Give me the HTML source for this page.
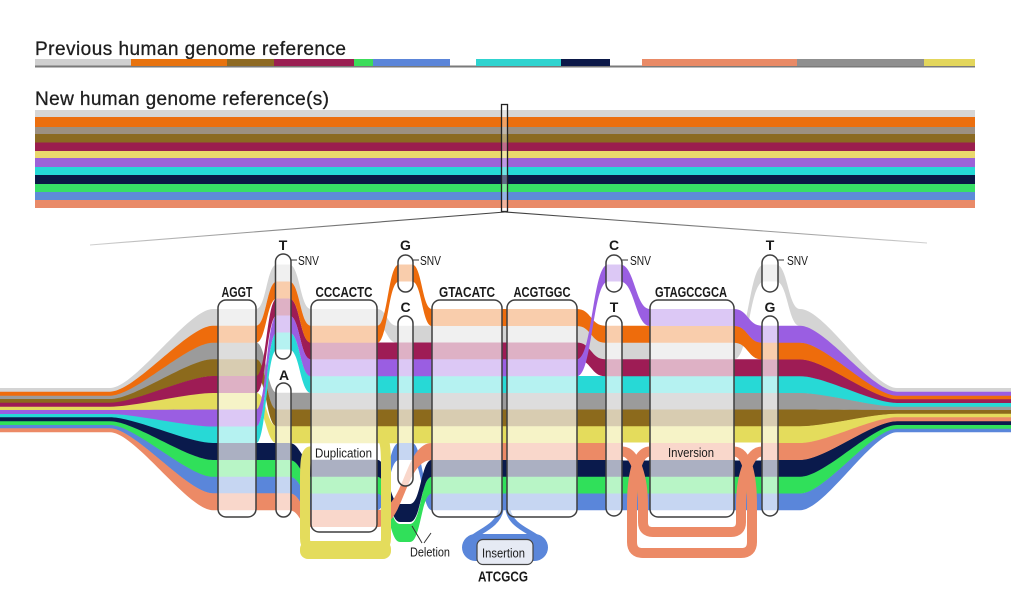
<!DOCTYPE html>
<html><head><meta charset="utf-8"><style>html,body{margin:0;padding:0;background:#fff;width:1011px;height:608px;overflow:hidden}</style></head>
<body>
<svg width="1011" height="608" viewBox="0 0 1011 608" xmlns="http://www.w3.org/2000/svg">
<defs>
<linearGradient id="gl" x1="0" y1="0" x2="1" y2="0"><stop offset="0" stop-color="#d0d0d0"/><stop offset="1" stop-color="#3a3a3a"/></linearGradient>
<linearGradient id="gr" x1="0" y1="0" x2="1" y2="0"><stop offset="0" stop-color="#3a3a3a"/><stop offset="1" stop-color="#d0d0d0"/></linearGradient>
</defs>
<rect width="1011" height="608" fill="#fff"/>

<!-- Titles -->
<text x="35" y="55" font-family="Liberation Sans, sans-serif" font-size="19" textLength="311" fill="#1e1e1e" stroke="#1e1e1e" stroke-width="0.3">Previous human genome reference</text>
<text x="35" y="105" font-family="Liberation Sans, sans-serif" font-size="19" textLength="294" fill="#1e1e1e" stroke="#1e1e1e" stroke-width="0.3">New human genome reference(s)</text>

<!-- Previous reference bar -->
<rect x="35" y="65.5" width="940" height="2" fill="#7a7a7a"/>
<rect x="35" y="59" width="96" height="6.5" fill="#d0d0d0"/>
<rect x="131" y="59" width="96" height="7" fill="#e8730f"/>
<rect x="227" y="59" width="47" height="7" fill="#8e6a23"/>
<rect x="274" y="59" width="80" height="7" fill="#9a1f52"/>
<rect x="354" y="59" width="19" height="7" fill="#3cdc5a"/>
<rect x="373" y="59" width="77" height="7" fill="#5b85d9"/>
<rect x="476" y="59" width="85" height="7" fill="#2fd3cf"/>
<rect x="561" y="59" width="49" height="7" fill="#0b1848"/>
<rect x="642" y="59" width="155" height="7" fill="#e98a66"/>
<rect x="797" y="59" width="127" height="7" fill="#8f8f8f"/>
<rect x="924" y="59" width="51" height="7" fill="#e3d65c"/>

<!-- New reference bars -->
<rect x="35" y="110" width="940" height="7" fill="#d6d6d6"/>
<rect x="35" y="117" width="940" height="10" fill="#ec6f0f"/>
<rect x="35" y="127" width="940" height="7" fill="#9c9082"/>
<rect x="35" y="134" width="940" height="8.5" fill="#8b6a22"/>
<rect x="35" y="142.5" width="940" height="8.5" fill="#9b1e4e"/>
<rect x="35" y="151" width="940" height="7" fill="#e9d86c"/>
<rect x="35" y="158" width="940" height="9" fill="#9c62d8"/>
<rect x="35" y="167" width="940" height="8" fill="#25d8d6"/>
<rect x="35" y="175" width="940" height="9" fill="#0a1845"/>
<rect x="35" y="184" width="940" height="8" fill="#37df66"/>
<rect x="35" y="192" width="940" height="8" fill="#5d8bd8"/>
<rect x="35" y="200" width="940" height="8" fill="#e98a68"/>
<rect x="501.5" y="104.5" width="6" height="107" fill="#fff" fill-opacity="0.35" stroke="#222" stroke-width="1.3"/>
<line x1="90" y1="245" x2="505" y2="212" stroke="url(#gl)" stroke-width="1.1"/>
<line x1="505" y1="212" x2="927" y2="243" stroke="url(#gr)" stroke-width="1.1"/>

<!-- Bands -->
<g>
<path fill="#d4d4d4" d="M0,388 L110,388 C135,388 188,309 213,309 L256,309 C266.5,309 266.5,264.5 277,264.5 L289,264.5 C300,264.5 300,309 311,309 L377,309 C387,309 387,325.75 397,325.75 L577,325.75 C591,325.75 591,342.5 605,342.5 L734,342.5 C749,342.5 749,264.5 764,264.5 L776,264.5 C788,264.5 788,309 800,309 C825,309 872,388 897,388 L1011,388 L1011,392 L897,392 C872,392 825,326 800,326 C788,326 788,281.5 776,281.5 L764,281.5 C749,281.5 749,359.5 734,359.5 L605,359.5 C591,359.5 591,342.75 577,342.75 L397,342.75 C387,342.75 387,326 377,326 L311,326 C300,326 300,281.5 289,281.5 L277,281.5 C266.5,281.5 266.5,326 256,326 L213,326 C188,326 135,392 110,392 L0,392 Z"/>
<path fill="#9b9b9b" d="M0,395.3 L110,395.3 C135,395.3 188,342.5 213,342.5 L256,342.5 C266.5,342.5 266.5,392.75 277,392.75 L800,392.75 C825,392.75 872,406.3 897,406.3 L1011,406.3 L1011,410.3 L897,410.3 C872,410.3 825,409.75 800,409.75 L277,409.75 C266.5,409.75 266.5,359.5 256,359.5 L213,359.5 C188,359.5 135,399.3 110,399.3 L0,399.3 Z"/>
<path fill="#8c6a1c" d="M0,399 L110,399 C135,399 188,359.25 213,359.25 L256,359.25 C266.5,359.25 266.5,409.5 277,409.5 L800,409.5 C825,409.5 872,410 897,410 L1011,410 L1011,414 L897,414 C872,414 825,426.5 800,426.5 L277,426.5 C266.5,426.5 266.5,376.25 256,376.25 L213,376.25 C188,376.25 135,403 110,403 L0,403 Z"/>
<path fill="#e4dc5c" d="M0,406.3 L110,406.3 C135,406.3 188,392.75 213,392.75 L256,392.75 C266.5,392.75 266.5,426.25 277,426.25 L800,426.25 C825,426.25 872,413.7 897,413.7 L1011,413.7 L1011,417.7 L897,417.7 C872,417.7 825,443.25 800,443.25 L277,443.25 C266.5,443.25 266.5,409.75 256,409.75 L213,409.75 C188,409.75 135,410.3 110,410.3 L0,410.3 Z"/>
<path fill="#27d9d6" d="M0,413.7 L110,413.7 C135,413.7 188,426.25 213,426.25 L256,426.25 C266.5,426.25 266.5,332.5 277,332.5 L289,332.5 C300,332.5 300,376 311,376 L800,376 C825,376 872,402.7 897,402.7 L1011,402.7 L1011,406.7 L897,406.7 C872,406.7 825,393 800,393 L311,393 C300,393 300,349.5 289,349.5 L277,349.5 C266.5,349.5 266.5,443.25 256,443.25 L213,443.25 C188,443.25 135,417.7 110,417.7 L0,417.7 Z"/>
<path fill="#9e1c55" d="M0,402.7 L110,402.7 C135,402.7 188,376 213,376 L256,376 C266.5,376 266.5,298.5 277,298.5 L289,298.5 C300,298.5 300,342.5 311,342.5 L577,342.5 C591,342.5 591,359.25 605,359.25 L800,359.25 C825,359.25 872,399 897,399 L1011,399 L1011,403 L897,403 C872,403 825,376.25 800,376.25 L605,376.25 C591,376.25 591,359.5 577,359.5 L311,359.5 C300,359.5 300,315.5 289,315.5 L277,315.5 C266.5,315.5 266.5,393 256,393 L213,393 C188,393 135,406.7 110,406.7 L0,406.7 Z"/>
<path fill="#ee6c0c" d="M0,391.7 L110,391.7 C135,391.7 188,325.75 213,325.75 L256,325.75 C266.5,325.75 266.5,281.5 277,281.5 L289,281.5 C300,281.5 300,325.75 311,325.75 L377,325.75 C388,325.75 388,264.5 399,264.5 L412,264.5 C422,264.5 422,309 432,309 L577,309 C591,309 591,325.75 605,325.75 L734,325.75 C748,325.75 748,342.5 762,342.5 L800,342.5 C825,342.5 872,395.3 897,395.3 L1011,395.3 L1011,399.3 L897,399.3 C872,399.3 825,359.5 800,359.5 L762,359.5 C748,359.5 748,342.75 734,342.75 L605,342.75 C591,342.75 591,326 577,326 L432,326 C422,326 422,281.5 412,281.5 L399,281.5 C388,281.5 388,342.75 377,342.75 L311,342.75 C300,342.75 300,298.5 289,298.5 L277,298.5 C266.5,298.5 266.5,342.75 256,342.75 L213,342.75 C188,342.75 135,395.7 110,395.7 L0,395.7 Z"/>
<path fill="#9a5ee2" d="M0,410 L110,410 C135,410 188,409.5 213,409.5 L256,409.5 C266.5,409.5 266.5,315.5 277,315.5 L289,315.5 C300,315.5 300,359.25 311,359.25 L577,359.25 C592.5,359.25 592.5,264.5 608,264.5 L620,264.5 C635,264.5 635,309 650,309 L734,309 C748,309 748,325.75 762,325.75 L800,325.75 C825,325.75 872,391.7 897,391.7 L1011,391.7 L1011,395.7 L897,395.7 C872,395.7 825,342.75 800,342.75 L762,342.75 C748,342.75 748,326 734,326 L650,326 C635,326 635,281.5 620,281.5 L608,281.5 C592.5,281.5 592.5,376.25 577,376.25 L311,376.25 C300,376.25 300,332.5 289,332.5 L277,332.5 C266.5,332.5 266.5,426.5 256,426.5 L213,426.5 C188,426.5 135,414 110,414 L0,414 Z"/>
<path fill="#5a86da" d="M0,424.7 L110,424.7 C135,424.7 188,476.5 213,476.5 L289,476.5 C300,476.5 300,493.25 311,493.25 L377,493.25 C388,493.25 388,443 399,443 L412,443 C422,443 422,493.25 432,493.25 L800,493.25 C825,493.25 872,428.3 897,428.3 L1011,428.3 L1011,432.3 L897,432.3 C872,432.3 825,510.25 800,510.25 L432,510.25 C422,510.25 422,460 412,460 L399,460 C388,460 388,510.25 377,510.25 L311,510.25 C300,510.25 300,493.5 289,493.5 L213,493.5 C188,493.5 135,428.7 110,428.7 L0,428.7 Z"/>
<path fill="#30e05a" d="M0,421 L110,421 C135,421 188,459.75 213,459.75 L289,459.75 C300,459.75 300,476.5 311,476.5 L377,476.5 C388.5,476.5 388.5,524 400,524 L410,524 C421,524 421,476.5 432,476.5 L800,476.5 C825,476.5 872,424.7 897,424.7 L1011,424.7 L1011,428.7 L897,428.7 C872,428.7 825,493.5 800,493.5 L432,493.5 C421,493.5 421,542 410,542 L400,542 C388.5,542 388.5,493.5 377,493.5 L311,493.5 C300,493.5 300,476.75 289,476.75 L213,476.75 C188,476.75 135,425 110,425 L0,425 Z"/>
<path fill="#0a1a4c" d="M0,417.3 L110,417.3 C135,417.3 188,443 213,443 L289,443 C300,443 300,459.75 311,459.75 L377,459.75 C388.5,459.75 388.5,504 400,504 L410,504 C421,504 421,459.75 432,459.75 L800,459.75 C825,459.75 872,421 897,421 L1011,421 L1011,425 L897,425 C872,425 825,476.75 800,476.75 L432,476.75 C421,476.75 421,522 410,522 L400,522 C388.5,522 388.5,476.75 377,476.75 L311,476.75 C300,476.75 300,460 289,460 L213,460 C188,460 135,421.3 110,421.3 L0,421.3 Z"/>
<path fill="#ec8a66" d="M0,428.3 L110,428.3 C135,428.3 188,493.25 213,493.25 L289,493.25 C300,493.25 300,510 311,510 L377,510 C404.5,510 404.5,443 432,443 L800,443 C825,443 872,417.3 897,417.3 L1011,417.3 L1011,421.3 L897,421.3 C872,421.3 825,460 800,460 L432,460 C404.5,460 404.5,527 377,527 L311,527 C300,527 300,510.25 289,510.25 L213,510.25 C188,510.25 135,432.3 110,432.3 L0,432.3 Z"/>
</g>

<!-- Inversion gaps and loops -->
<rect x="623" y="442.5" width="26" height="18" fill="#fff"/>
<rect x="735" y="442.5" width="26" height="18" fill="#fff"/>
<path fill="none" stroke="#ec8a66" stroke-width="10" d="M622,451.5 C636,451.5 643,480 643,505 L643,522 Q643,532 653,532 L731,532 Q741,532 741,522 L741,505 C741,480 748,451.5 762,451.5"/>
<path fill="none" stroke="#ec8a66" stroke-width="10" d="M650,451.5 C636,451.5 632,480 632,505 L632,542 Q632,553 643,553 L741,553 Q752,553 752,542 L752,505 C752,480 748,451.5 734,451.5"/>

<!-- Duplication loop -->
<path fill="none" stroke="#e4dc5c" stroke-width="10" d="M377,434.6 C386,434.6 386,450 386,470 L386,538 Q386,550 374,550 L317,550 Q305,550 305,538 L305,480 C305,460 306,451.4 311,451.4"/>
<rect x="300" y="541" width="91" height="18" rx="8" fill="#e4dc5c"/>

<!-- Insertion -->
<path fill="none" stroke="#5a86da" stroke-width="5" d="M501,510 C498,525 482,530 472,538"/>
<path fill="none" stroke="#5a86da" stroke-width="5" d="M508,510 C511,525 527,530 538,538"/>
<rect x="462" y="534" width="86" height="27" rx="13.5" fill="#5a86da"/>
<rect x="477" y="539.5" width="56" height="25" rx="6" fill="#e6eaf4" stroke="#444" stroke-width="1.2"/>

<!-- Boxes -->
<g fill="#fff" fill-opacity="0.66" stroke="#3e3e3e" stroke-width="1.5">
<rect x="218" y="300" width="38" height="217" rx="8"/>
<rect x="275.5" y="254" width="15.5" height="105" rx="7.7"/>
<rect x="276" y="383" width="15" height="134" rx="7.5"/>
<rect x="311" y="300" width="66" height="232" rx="8"/>
<rect x="398" y="255" width="15" height="37" rx="7.5"/>
<rect x="398" y="316" width="15" height="170" rx="7.5"/>
<rect x="432" y="300" width="70" height="217" rx="8"/>
<rect x="507" y="300" width="70" height="217" rx="8"/>
<rect x="606" y="255" width="16" height="37" rx="8"/>
<rect x="606" y="316" width="16" height="200" rx="8"/>
<rect x="650" y="300" width="84" height="217" rx="8"/>
<rect x="762" y="255" width="16" height="37" rx="8"/>
<rect x="762" y="316" width="16" height="200" rx="8"/>
</g>

<!-- SNV ticks & deletion pointers -->
<g stroke="#333" stroke-width="1">
<line x1="291" y1="260" x2="297" y2="260"/>
<line x1="413" y1="260" x2="419" y2="260"/>
<line x1="622" y1="260" x2="628" y2="260"/>
<line x1="778" y1="260" x2="784" y2="260"/>
<line x1="412" y1="526" x2="422" y2="543"/>
<line x1="431" y1="533" x2="424" y2="543"/>
</g>

<!-- Labels -->
<g font-family="Liberation Sans, sans-serif" font-weight="bold" font-size="15" fill="#1a1a1a" text-anchor="middle">
<text x="237" y="297" textLength="31" lengthAdjust="spacingAndGlyphs">AGGT</text>
<text x="344" y="297" textLength="57" lengthAdjust="spacingAndGlyphs">CCCACTC</text>
<text x="467" y="297" textLength="56" lengthAdjust="spacingAndGlyphs">GTACATC</text>
<text x="542" y="297" textLength="57" lengthAdjust="spacingAndGlyphs">ACGTGGC</text>
<text x="691" y="297" textLength="72" lengthAdjust="spacingAndGlyphs">GTAGCCGCA</text>
<text x="503" y="581.5" textLength="50" lengthAdjust="spacingAndGlyphs">ATCGCG</text>
<text x="283" y="250" font-size="14">T</text>
<text x="284" y="380" font-size="14">A</text>
<text x="405.5" y="250" font-size="14">G</text>
<text x="405.5" y="312" font-size="14">C</text>
<text x="614" y="250" font-size="14">C</text>
<text x="614" y="312" font-size="14">T</text>
<text x="770" y="250" font-size="14">T</text>
<text x="770" y="312" font-size="14">G</text>
</g>
<g font-family="Liberation Sans, sans-serif" font-size="13" fill="#1a1a1a">
<text x="298" y="265" textLength="21" lengthAdjust="spacingAndGlyphs">SNV</text>
<text x="420" y="265" textLength="21" lengthAdjust="spacingAndGlyphs">SNV</text>
<text x="630" y="265" textLength="21" lengthAdjust="spacingAndGlyphs">SNV</text>
<text x="787" y="265" textLength="21" lengthAdjust="spacingAndGlyphs">SNV</text>
<text x="315" y="457.5" font-size="12.5" textLength="57" lengthAdjust="spacingAndGlyphs">Duplication</text>
<text x="668" y="457" textLength="46" lengthAdjust="spacingAndGlyphs">Inversion</text>
<text x="410" y="556.5" textLength="40" lengthAdjust="spacingAndGlyphs">Deletion</text>
<text x="482" y="557.5" textLength="43" lengthAdjust="spacingAndGlyphs">Insertion</text>
</g>
</svg>
</body></html>
